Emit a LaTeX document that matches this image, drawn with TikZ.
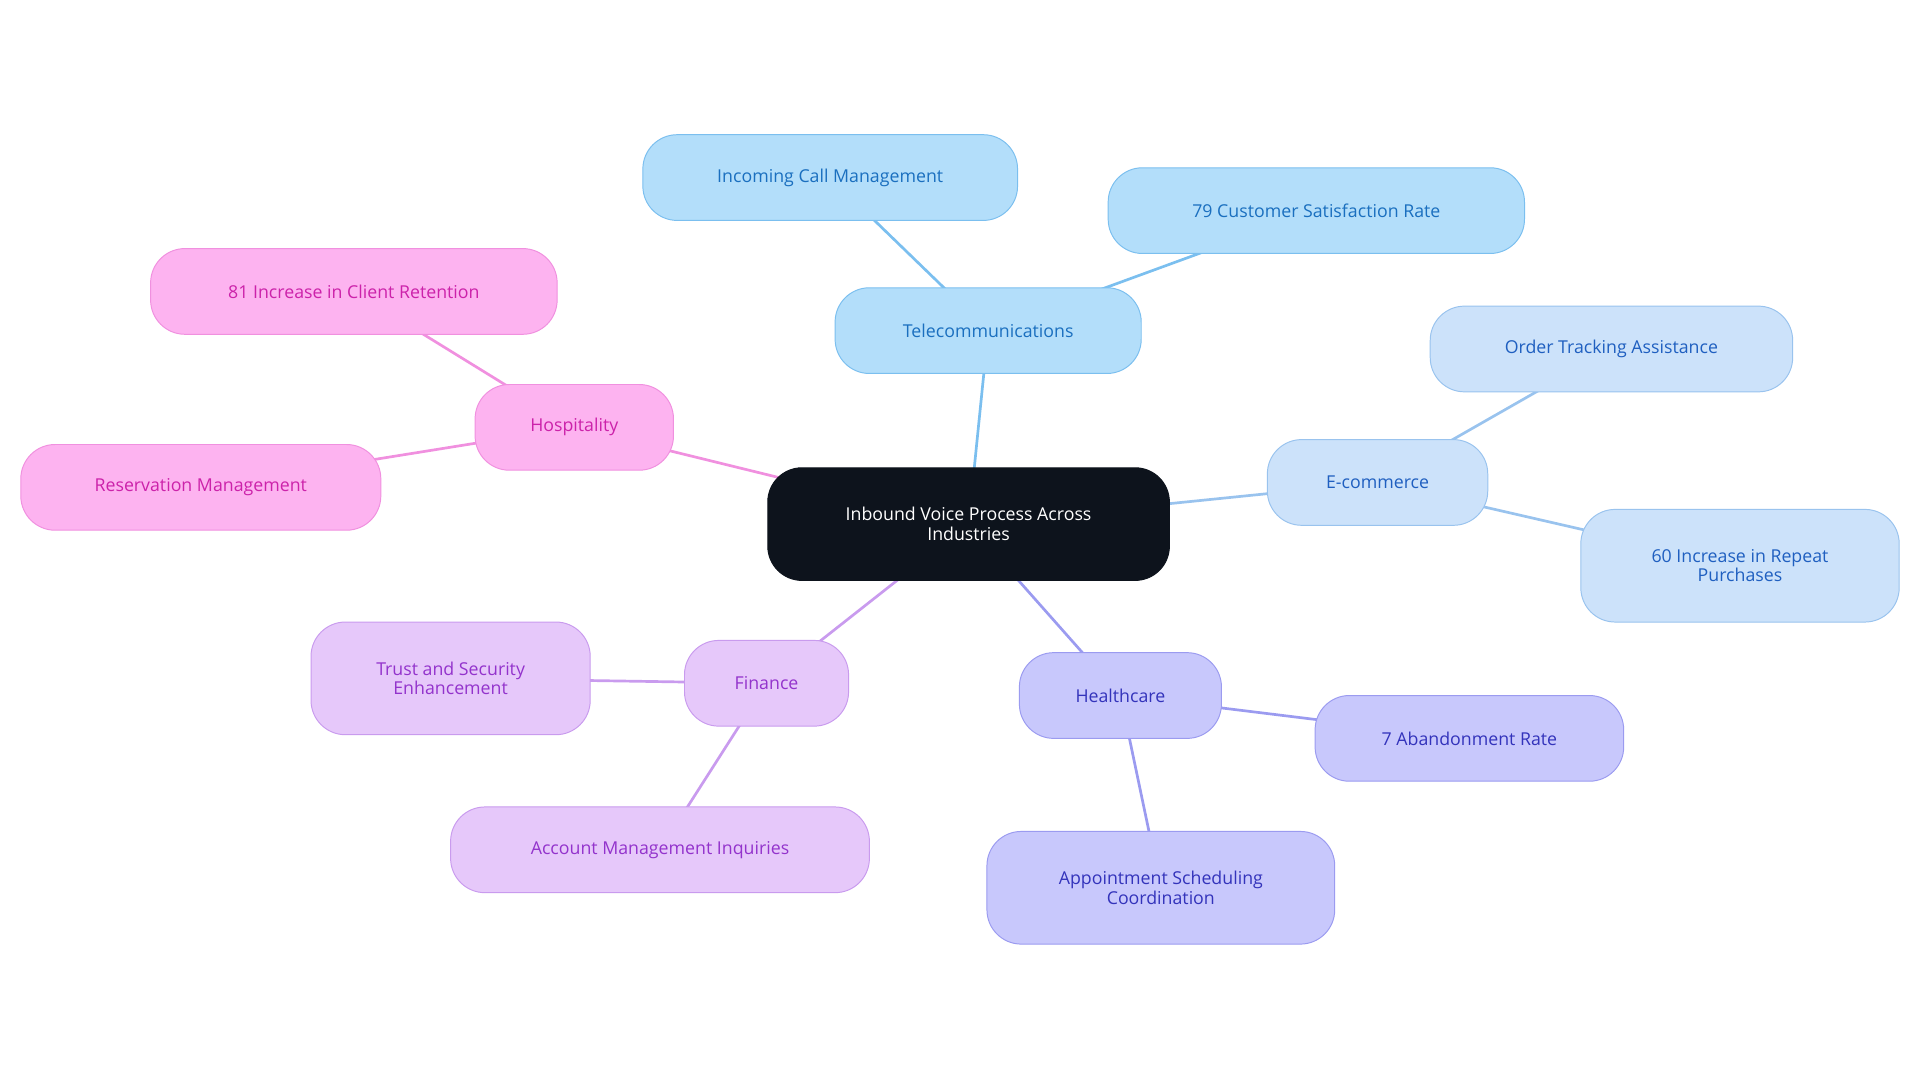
\documentclass[tikz,border=0pt]{standalone}
\usepackage{fontspec}
\setmainfont{Open Sans}
\usetikzlibrary{backgrounds}
\definecolor{tf}{HTML}{B3DEFA}\definecolor{tb}{HTML}{7BBFEF}\definecolor{tt}{HTML}{1A6FBF}
\definecolor{ef}{HTML}{CCE2FA}\definecolor{eb}{HTML}{99C3EE}\definecolor{et}{HTML}{1F5FC0}
\definecolor{hf}{HTML}{C8C8FC}\definecolor{hb}{HTML}{9B9BF0}\definecolor{ht}{HTML}{3333BB}
\definecolor{ff}{HTML}{E6C8FA}\definecolor{fb}{HTML}{C99BEE}\definecolor{ft}{HTML}{9333CC}
\definecolor{pf}{HTML}{FDB3F0}\definecolor{pb}{HTML}{F090DF}\definecolor{pt}{HTML}{CC22AA}
\definecolor{rootf}{HTML}{0D131C}
\begin{document}
\begin{tikzpicture}[x=1pt,y=-1pt,
 box/.style={rounded corners=28pt,draw,line width=0.8pt,align=center,font=\fontsize{14.5}{16}\selectfont,inner sep=0pt},
 tel/.style={box,fill=tf,draw=tb,text=tt},
 eco/.style={box,fill=ef,draw=eb,text=et},
 hea/.style={box,fill=hf,draw=hb,text=ht},
 fin/.style={box,fill=ff,draw=fb,text=ft},
 hos/.style={box,fill=pf,draw=pb,text=pt},
 ln/.style={line width=2.2pt}]
\useasboundingbox (0,0) rectangle (1568,884);
\node[box,fill=rootf,draw=rootf,text=white,minimum width=328pt,minimum height=92pt] (root) at (791,428) {Inbound Voice Process Across\\Industries};
\node[tel,minimum width=250pt,minimum height=70pt] (tel) at (807,270) {Telecommunications};
\node[tel,minimum width=306pt,minimum height=70pt] (inc) at (678,145) {Incoming Call Management};
\node[tel,minimum width=340pt,minimum height=70pt] (cs) at (1075,172) {79 Customer Satisfaction Rate};
\node[eco,minimum width=180pt,minimum height=70pt] (eco) at (1125,394) {E-commerce};
\node[eco,minimum width=296pt,minimum height=70pt] (ord) at (1316,285) {Order Tracking Assistance};
\node[eco,minimum width=260pt,minimum height=92pt] (rep) at (1421,462) {60 Increase in Repeat\\Purchases};
\node[hea,minimum width=165pt,minimum height=70pt] (hea) at (915,568) {Healthcare};
\node[hea,minimum width=252pt,minimum height=70pt] (ab) at (1200,603) {7 Abandonment Rate};
\node[hea,minimum width=284pt,minimum height=92pt] (app) at (948,725) {Appointment Scheduling\\Coordination};
\node[fin,minimum width=134pt,minimum height=70pt] (fin) at (626,558) {Finance};
\node[fin,minimum width=228pt,minimum height=92pt] (tr) at (368,554) {Trust and Security\\Enhancement};
\node[fin,minimum width=342pt,minimum height=70pt] (acc) at (539,694) {Account Management Inquiries};
\node[hos,minimum width=162pt,minimum height=70pt] (hos) at (469,349) {Hospitality};
\node[hos,minimum width=332pt,minimum height=70pt] (ret) at (289,238) {81 Increase in Client Retention};
\node[hos,minimum width=294pt,minimum height=70pt] (res) at (164,398) {Reservation Management};
\begin{scope}[on background layer]
\draw[ln,tb] (root.center)--(tel.center) (tel.center)--(inc.center) (tel.center)--(cs.center);
\draw[ln,eb] (root.center)--(eco.center) (eco.center)--(ord.center) (eco.center)--(rep.center);
\draw[ln,hb] (root.center)--(hea.center) (hea.center)--(ab.center) (hea.center)--(app.center);
\draw[ln,fb] (root.center)--(fin.center) (fin.center)--(tr.center) (fin.center)--(acc.center);
\draw[ln,pb] (root.center)--(hos.center) (hos.center)--(ret.center) (hos.center)--(res.center);
\end{scope}
\end{tikzpicture}
\end{document}
